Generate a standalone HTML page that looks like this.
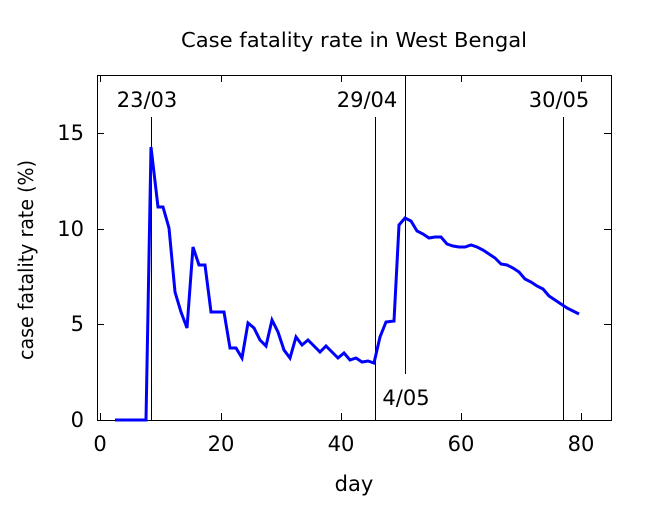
<!DOCTYPE html>
<html><head><style>body{margin:0;background:#fff}</style></head><body>
<svg width="650" height="500" xmlns="http://www.w3.org/2000/svg" font-family="DejaVu Sans, sans-serif">
<rect width="650" height="500" fill="#fff"/>
<text x="181" y="47" font-size="20" textLength="346" lengthAdjust="spacingAndGlyphs">Case fatality rate in West Bengal</text>
<rect x="97.5" y="75.5" width="514" height="345" fill="none" stroke="#000" stroke-width="1"/>
<g stroke="#000" stroke-width="1">
<line x1="100.5" y1="420" x2="100.5" y2="413"/><line x1="221.5" y1="420" x2="221.5" y2="413"/><line x1="341.5" y1="420" x2="341.5" y2="413"/><line x1="461.5" y1="420" x2="461.5" y2="413"/><line x1="581.5" y1="420" x2="581.5" y2="413"/>
<line x1="100.5" y1="75" x2="100.5" y2="82"/><line x1="221.5" y1="75" x2="221.5" y2="82"/><line x1="341.5" y1="75" x2="341.5" y2="82"/><line x1="461.5" y1="75" x2="461.5" y2="82"/><line x1="581.5" y1="75" x2="581.5" y2="82"/>
<line x1="97" y1="420.5" x2="104" y2="420.5"/><line x1="97" y1="324.5" x2="104" y2="324.5"/><line x1="97" y1="229.5" x2="104" y2="229.5"/><line x1="97" y1="133.5" x2="104" y2="133.5"/>
<line x1="611" y1="324.5" x2="604" y2="324.5"/><line x1="611" y1="229.5" x2="604" y2="229.5"/><line x1="611" y1="133.5" x2="604" y2="133.5"/>
<line x1="151.5" y1="117" x2="151.5" y2="420"/><line x1="375.5" y1="117" x2="375.5" y2="420"/><line x1="405.5" y1="75" x2="405.5" y2="374"/><line x1="563.5" y1="117" x2="563.5" y2="420"/>
</g>
<g font-size="21" text-anchor="middle">
<text x="100" y="451">0</text><text x="221" y="451">20</text><text x="341" y="451">40</text><text x="461" y="451">60</text><text x="581" y="451">80</text>
<text x="354" y="491">day</text>
<text x="147" y="107">23/03</text><text x="367" y="107">29/04</text><text x="559" y="107">30/05</text><text x="406" y="405">4/05</text>
</g>
<g font-size="21" text-anchor="end">
<text x="84" y="427">0</text><text x="84" y="331">5</text><text x="84" y="236">10</text><text x="84" y="140">15</text>
</g>
<text transform="translate(33,360) rotate(-90)" font-size="20" textLength="200" lengthAdjust="spacingAndGlyphs">case fatality rate (%)</text>
<polyline fill="none" stroke="#0000ff" stroke-width="3" points="115,420 146,420 151,147 158,207 163,207 169,228 175,292 181,312 187,328 193,247 199,265 205,265 211,312 217,312 224,312 230,348 236,348 242,358 248,323 254,328 260,340 266,346 272,320 278,332 284,350 290,358 296,337 302,345 308,340 314,346 320,352 326,346 332,352 338,358 344,353 350,360 356,358 362,362 368,361 374,363 380,337 386,322 394,321 399,225 405,218 411,221 417,231 423,234 429,238 435,237 441,237 447,244 453,246 459,247 465,247 471,245 477,247 483,250 489,254 495,258 501,264 507,265 513,268 519,272 525,279 531,282 537,286 543,289 549,296 555,300 561,304 567,308 573,311 579,314"/>
</svg>
</body></html>
